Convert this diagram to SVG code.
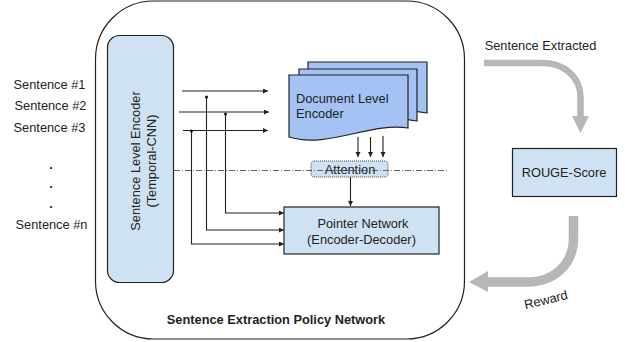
<svg xmlns="http://www.w3.org/2000/svg" width="625" height="342" viewBox="0 0 625 342">
<style>
text{font-family:"Liberation Sans",Arial,sans-serif;font-size:12.8px;fill:#222;text-anchor:middle}
.box{fill:#cfe2f3;stroke:#222;stroke-width:1.2}
.doc{fill:#a4c2f4;stroke:#222;stroke-width:1.2}
.c{fill:none;stroke:#222;stroke-width:1.1}
.g{fill:none;stroke:#b7b7b7}
.gh{fill:#b7b7b7}
.dot{fill:#111}
</style>
<defs><marker id="a" markerWidth="6" markerHeight="6" refX="5" refY="2.5" orient="auto" markerUnits="userSpaceOnUse"><path d="M0 0L5 2.5L0 5Z" fill="#222"/></marker></defs>
<rect width="625" height="342" fill="#fff"/>
<g id="policy-network"><rect x="95.500" y="1" width="369" height="338" rx="58" ry="58" fill="#fff" stroke="#222" stroke-width="1.2"/><text x="276" y="324" style="font-weight:bold">Sentence Extraction Policy Network</text></g>
<g id="sentence-encoder"><rect class="box" x="107.500" y="35.500" width="66" height="247" rx="12"/><text transform="translate(140 161) rotate(-90)">Sentence Level Encoder</text><text transform="translate(156 161) rotate(-90)">(Temporal-CNN)</text></g>
<g id="document-encoder">
<path class="doc" d="M308 62H427V113C390 105 345 125 308 115Z"/>
<path class="doc" d="M299 69H417V121C380 113 336 133 299 123Z"/>
<path class="doc" d="M289 75H408V128C371 122 327 149 289 137Z"/>
<text x="296" y="103" style="text-anchor:start">Document Level</text><text x="296" y="118" style="text-anchor:start">Encoder</text></g>
<g id="attention"><rect x="311" y="161" width="77" height="16" rx="3" fill="#cfe2f3" stroke="#444" stroke-width="1" stroke-dasharray="1 1"/><text x="350" y="174">Attention</text></g>
<g id="pointer-network"><rect class="box" x="284" y="207" width="155" height="47"/><text x="363" y="228">Pointer Network</text><text x="361.500" y="244">(Encoder-Decoder)</text></g>
<g id="rouge-score"><rect class="box" x="512.500" y="148.500" width="104" height="48"/><text x="564" y="177">ROUGE-Score</text></g>
<g id="connectors">
<path d="M174 170.500H449" fill="none" stroke="#444" stroke-width="0.8" stroke-dasharray="6 2 1 2"/>
<path class="c" d="M182 91H268" marker-end="url(#a)"/>
<path class="c" d="M179 112H269" marker-end="url(#a)"/>
<path class="c" d="M183 130.500H268" marker-end="url(#a)"/>
<path class="c" d="M225.500 114V213H284" marker-end="url(#a)"/>
<path class="c" d="M206.500 97V230H284" marker-end="url(#a)"/>
<path class="c" d="M191.500 131V244H284" marker-end="url(#a)"/>
<circle class="dot" cx="206.500" cy="97" r="1.500"/><circle class="dot" cx="225.500" cy="114" r="1.500"/><circle class="dot" cx="191.500" cy="131" r="1.500"/>
<path class="c" d="M358 137V157" marker-end="url(#a)"/>
<path class="c" d="M370.500 137V157" marker-end="url(#a)"/>
<path class="c" d="M383 136V157" marker-end="url(#a)"/>
<path class="c" d="M350.500 177V206" marker-end="url(#a)"/>
<path class="g" stroke-width="6.500" d="M484 63H543C565 63 580.500 78 580.500 97V118"/>
<polygon class="gh" points="572,116 589,116 580.500,133"/>
<path class="g" stroke-width="9.500" d="M573.500 216V238C573.500 265 553 282 528 282H487"/><polygon class="gh" points="469,282 488,271 488,292"/>
</g>
<g id="labels">
<text x="49.500" y="89">Sentence #1</text><text x="50.500" y="110">Sentence #2</text><text x="49.500" y="132">Sentence #3</text>
<text x="51" y="169" style="font-weight:bold">.</text><text x="51" y="188" style="font-weight:bold">.</text><text x="51" y="208" style="font-weight:bold">.</text>
<text x="51.500" y="229">Sentence #n</text>
<text x="540.500" y="50">Sentence Extracted</text>
<text transform="translate(547 304) rotate(-14)">Reward</text>
</g>
</svg>
